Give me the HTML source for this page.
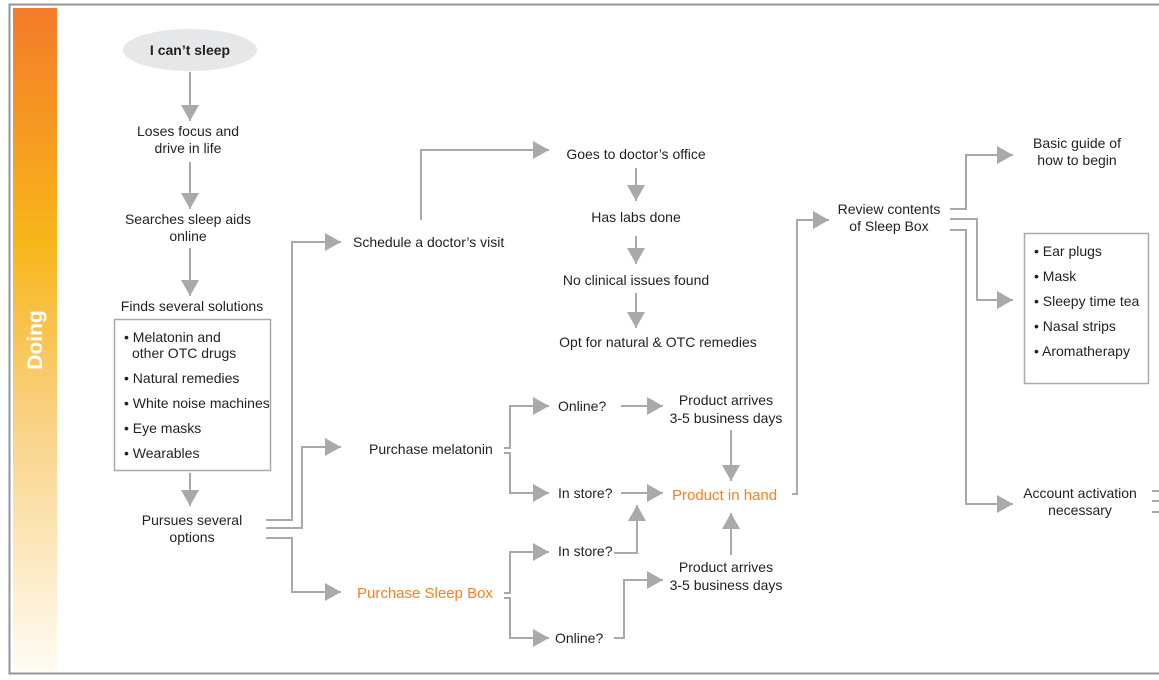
<!DOCTYPE html>
<html><head><meta charset="utf-8"><style>
html,body{margin:0;padding:0;background:#fff;}
svg{display:block;}
text{font-family:"Liberation Sans",Arial,sans-serif;font-size:14px;fill:#231f20;}
.c{text-anchor:middle;}
.o{fill:#f58220;font-size:15px;}
</style></head><body>
<svg width="1159" height="680" viewBox="0 0 1159 680" xmlns="http://www.w3.org/2000/svg">
<defs>
<linearGradient id="g" x1="0" y1="0" x2="0" y2="1">
<stop offset="0" stop-color="#f47b2a"/>
<stop offset="0.35" stop-color="#f8b619"/>
<stop offset="0.6" stop-color="#f9cf7c"/>
<stop offset="1" stop-color="#fffcf4"/>
</linearGradient>
<marker id="a" markerUnits="userSpaceOnUse" markerWidth="18" markerHeight="20" refX="16" refY="9" orient="auto">
<polygon points="0,0 16,9 0,18" fill="#a7a9ac"/>
</marker>
</defs>
<path d="M1159 4.5 H9.5 V673.5 H1159" fill="none" stroke="#939598" stroke-width="2"/>
<rect x="13" y="8" width="44" height="663" fill="url(#g)"/>
<text transform="translate(42,340) rotate(-90)" class="c" style="font-size:21px;font-weight:bold;fill:#fff">Doing</text>

<g fill="none" stroke="#a7a9ac" stroke-width="2">
<path d="M190 72 V121" marker-end="url(#a)"/>
<path d="M190 162 V209" marker-end="url(#a)"/>
<path d="M190 248 V296" marker-end="url(#a)"/>
<path d="M190 473 V506" marker-end="url(#a)"/>
<path d="M266 520 H292 V242 H341" marker-end="url(#a)"/>
<path d="M266 528 H302 V447 H341" marker-end="url(#a)"/>
<path d="M266 538 H292 V592 H341" marker-end="url(#a)"/>
<path d="M421 220 V150 H549" marker-end="url(#a)"/>
<path d="M636 168 V201" marker-end="url(#a)"/>
<path d="M636 236 V264" marker-end="url(#a)"/>
<path d="M636 293 V328" marker-end="url(#a)"/>
<path d="M504 448 H510 V406 H549" marker-end="url(#a)"/>
<path d="M504 453 H510 V493 H549" marker-end="url(#a)"/>
<path d="M621 406 H663" marker-end="url(#a)"/>
<path d="M621 493 H663" marker-end="url(#a)"/>
<path d="M731 430 V481" marker-end="url(#a)"/>
<path d="M792 494 H797 V220 H829" marker-end="url(#a)"/>
<path d="M504 593 H510 V552 H549" marker-end="url(#a)"/>
<path d="M504 598 H510 V638 H549" marker-end="url(#a)"/>
<path d="M614 553 H637 V505" marker-end="url(#a)"/>
<path d="M614 638 H624 V580 H663" marker-end="url(#a)"/>
<path d="M731 555 V513" marker-end="url(#a)"/>
<path d="M950 209 H966 V155 H1013" marker-end="url(#a)"/>
<path d="M950 219 H977 V300 H1013" marker-end="url(#a)"/>
<path d="M950 230 H966 V504 H1013" marker-end="url(#a)"/>
<path d="M1152 491 H1159 M1152 501 H1159 M1152 512 H1159"/>
</g>
<rect x="114.5" y="319.5" width="156" height="151" fill="none" stroke="#a7a9ac" stroke-width="1.5"/>
<rect x="1024.5" y="233.5" width="124" height="150" fill="none" stroke="#a7a9ac" stroke-width="1.5"/>

<ellipse cx="190" cy="50" rx="67" ry="21" fill="#e6e7e8"/>
<text x="190" y="55" class="c" style="font-weight:bold">I can’t sleep</text>
<text x="188" y="136" class="c">Loses focus and</text>
<text x="188" y="153" class="c">drive in life</text>
<text x="188" y="224" class="c">Searches sleep aids</text>
<text x="188" y="241" class="c">online</text>
<text x="192" y="311" class="c">Finds several solutions</text>
<g style="font-size:13px">
<text x="124" y="342">• Melatonin and</text>
<text x="132" y="358">other OTC drugs</text>
<text x="124" y="383">• Natural remedies</text>
<text x="124" y="408">• White noise machines</text>
<text x="124" y="433">• Eye masks</text>
<text x="124" y="458">• Wearables</text>
</g>
<text x="192" y="525" class="c">Pursues several</text>
<text x="192" y="542" class="c">options</text>
<text x="353" y="247">Schedule a doctor’s visit</text>
<text x="636" y="159" class="c">Goes to doctor’s office</text>
<text x="636" y="222" class="c">Has labs done</text>
<text x="636" y="285" class="c">No clinical issues found</text>
<text x="658" y="347" class="c">Opt for natural &amp; OTC remedies</text>
<text x="369" y="454">Purchase melatonin</text>
<text x="558" y="411">Online?</text>
<text x="558" y="498">In store?</text>
<text x="726" y="405" class="c">Product arrives</text>
<text x="726" y="423" class="c">3-5 business days</text>
<text x="672" y="500" class="o">Product in hand</text>
<text x="357" y="598" class="o">Purchase Sleep Box</text>
<text x="558" y="556">In store?</text>
<text x="555" y="643">Online?</text>
<text x="726" y="572" class="c">Product arrives</text>
<text x="726" y="590" class="c">3-5 business days</text>
<text x="889" y="214" class="c">Review contents</text>
<text x="889" y="231" class="c">of Sleep Box</text>
<text x="1077" y="148" class="c">Basic guide of</text>
<text x="1077" y="165" class="c">how to begin</text>
<g style="font-size:13px">
<text x="1034" y="256">• Ear plugs</text>
<text x="1034" y="281">• Mask</text>
<text x="1034" y="306">• Sleepy time tea</text>
<text x="1034" y="331">• Nasal strips</text>
<text x="1034" y="356">• Aromatherapy</text>
</g>
<text x="1080" y="498" class="c">Account activation</text>
<text x="1080" y="515" class="c">necessary</text>
</svg>
</body></html>
